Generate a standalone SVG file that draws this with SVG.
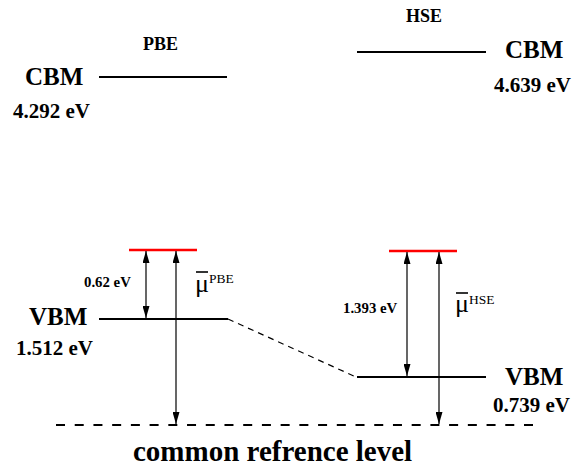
<svg xmlns="http://www.w3.org/2000/svg" width="574" height="466" viewBox="0 0 574 466">
<defs>
<style>
text{font-family:"Liberation Serif","Times New Roman",serif;fill:#000}
.b{font-weight:bold}
.big{font-size:25px}
.ev{font-size:21px}
.sm{font-size:14.8px}
.title{font-size:18px}
.mu{font-size:26px}
.sup{font-size:13.5px}
.lvl{stroke:#000;stroke-width:2;fill:none}
.red{stroke:#ff0000;stroke-width:2.5;fill:none}
.arr{stroke:#000;stroke-width:1.2;fill:none;marker-start:url(#ah);marker-end:url(#ah)}
.dash{stroke:#000;stroke-width:1.2;stroke-dasharray:6 5;fill:none}
.ref{stroke:#000;stroke-width:2;stroke-dasharray:9 9.72;fill:none}
</style>
<marker id="ah" viewBox="0 0 12 7" refX="12" refY="3.5" markerWidth="12" markerHeight="7" markerUnits="userSpaceOnUse" orient="auto-start-reverse">
<path d="M0,0 L12,3.5 L0,7 z" fill="#000"/>
</marker>
</defs>
<rect width="574" height="466" fill="#fff"/>

<g id="pbe-title"><text class="b title" x="143" y="50">PBE</text></g>
<g id="hse-title"><text class="b title" x="406" y="22">HSE</text></g>

<g id="pbe-cbm">
<line class="lvl" x1="99" y1="77" x2="227" y2="77"/>
<text class="b big" x="25" y="85">CBM</text>
<text class="b ev" x="13" y="118">4.292 eV</text>
</g>
<g id="hse-cbm">
<line class="lvl" x1="357" y1="52" x2="486" y2="52"/>
<text class="b big" x="505" y="58">CBM</text>
<text class="b ev" x="494" y="92">4.639 eV</text>
</g>

<g id="pbe-red"><line class="red" x1="129" y1="250" x2="197" y2="250"/></g>
<g id="hse-red"><line class="red" x1="389" y1="251" x2="457" y2="251"/></g>

<g id="pbe-vbm">
<line class="lvl" x1="99" y1="319" x2="228" y2="319"/>
<text class="b big" x="29" y="325">VBM</text>
<text class="b ev" x="16" y="355">1.512 eV</text>
</g>
<g id="hse-vbm">
<line class="lvl" x1="357" y1="377" x2="486" y2="377"/>
<text class="b big" x="505" y="385">VBM</text>
<text class="b ev" x="493" y="412">0.739 eV</text>
</g>

<g id="common-ref">
<line class="ref" x1="56" y1="425" x2="533" y2="425"/>
<text class="b" style="font-size:29px" x="133" y="461">common refrence level</text>
</g>

<g id="pbe-labels">
<text class="b sm" x="84" y="287">0.62 eV</text>
<line x1="196" y1="272" x2="208" y2="272" stroke="#000" stroke-width="1.6"/>
<text class="mu" x="195" y="292">μ</text>
<text class="sup" x="209" y="283">PBE</text>
</g>
<g id="hse-labels">
<text class="b sm" x="343" y="313">1.393 eV</text>
<line x1="456" y1="293" x2="468" y2="293" stroke="#000" stroke-width="1.6"/>
<text class="mu" x="455" y="312">μ</text>
<text class="sup" x="469" y="304">HSE</text>
</g>

<g id="connectors">
<line class="dash" x1="228" y1="319" x2="356" y2="377"/>
<line class="arr" x1="146" y1="251" x2="146" y2="318"/>
<line class="arr" x1="176" y1="251" x2="176" y2="424"/>
<line class="arr" x1="407" y1="252" x2="407" y2="376"/>
<line class="arr" x1="439" y1="252" x2="439" y2="424"/>
</g>
</svg>
